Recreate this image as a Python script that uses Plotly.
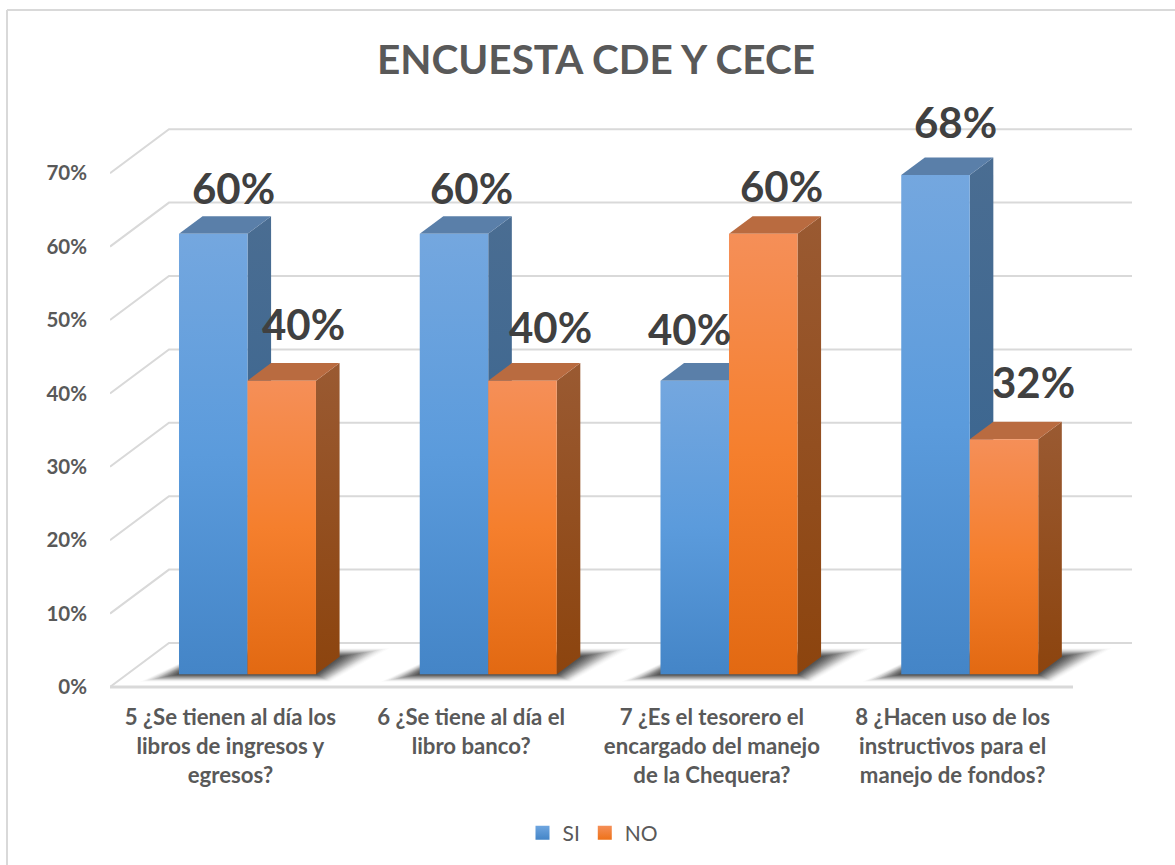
import plotly.graph_objects as go

TITLE = "ENCUESTA CDE Y CECE"
categories = [
    "5 ¿Se tienen al día los<br>libros de ingresos y<br>egresos?",
    "6 ¿Se tiene al día el<br>libro banco?",
    "7 ¿Es el tesorero el<br>encargado del manejo<br>de la Chequera?",
    "8 ¿Hacen uso de los<br>instructivos para el<br>manejo de fondos?",
]
si_values = [60, 60, 40, 68]
no_values = [40, 40, 60, 32]
y_ticks = [0, 10, 20, 30, 40, 50, 60, 70]
y_labels = ["0%", "10%", "20%", "30%", "40%", "50%", "60%", "70%"]

W, H = 1175, 865
ML, MR, MT, MB = 110, 35, 90, 165
PX_CAT = 240.75
PX_UNIT = 7.34
DX, DY = 59 / PX_CAT, 44 / PX_UNIT   # floor depth in axis units
Z0, Z1 = 0.29, 0.69                  # bar depth on the floor
BAR = 0.2845

FONT = "Lato, Carlito, Calibri, sans-serif"
GRID = "#d9d9d9"
TXT = "#595959"

# vertical fill gradients run bottom (0) to top (1)
BLUE = dict(front=[[0, "#4485c7"], [0.5, "#5b9bdc"], [1, "#74a7df"]],
            side=[[0, "#33628f"], [1, "#4a6d92"]], top="#5a7fa9", swatch=("#6fa6e0", "#4485c7"))
ORANGE = dict(front=[[0, "#e26912"], [0.5, "#f57f2d"], [1, "#f58f58"]],
              side=[[0, "#8c440e"], [1, "#9a5a32"]], top="#b96b40", swatch=("#f58f58", "#ee7219"))


def proj(x, v, z):
    return x + z * DX, v + z * DY


def poly(points, **kw):
    xs = [p[0] for p in points] + [points[0][0]]
    ys = [p[1] for p in points] + [points[0][1]]
    return go.Scatter(x=xs, y=ys, mode="lines", line=dict(width=0), fill="toself",
                      hoverinfo="skip", showlegend=False, **kw)


fig = go.Figure()

# walls: gridlines from the front-left edge to the back wall
for v in y_ticks:
    fig.add_trace(go.Scatter(
        x=[-0.5, proj(-0.5, v, 1)[0], proj(3.5, v, 1)[0]],
        y=[v, proj(-0.5, v, 1)[1], proj(3.5, v, 1)[1]],
        mode="lines", line=dict(color=GRID, width=2), hoverinfo="skip", showlegend=False))
fig.add_trace(go.Scatter(x=[-0.5, 3.5], y=[0, 0], mode="lines", line=dict(color=GRID, width=3),
                         hoverinfo="skip", showlegend=False))

# soft floor shadows: nested translucent footprints of each bar pair, widest first
LAYERS = 16
for i in range(len(categories)):
    xl = i - BAR
    xr = i + BAR
    for k in range(LAYERS, 0, -1):
        e = k / LAYERS
        alpha = 0.02 + 0.15 * (1 - e)
        fig.add_trace(poly([
            proj(xl - 0.12 * e, 0, Z0 - 0.17 * e),
            proj(xr + 0.10 * e, 0, Z0 - 0.17 * e),
            proj(xr + 0.16 * e, 0, Z1 + 0.19 * e),
            proj(xl - 0.01 * e, 0, Z1 + 0.19 * e),
        ], fillcolor=f"rgba(40,40,40,{alpha:.3f})"))


def add_bar(x0, x1, val, st):
    fig.add_trace(poly([proj(x1, 0, Z0), proj(x1, 0, Z1), proj(x1, val, Z1), proj(x1, val, Z0)],
                       fillgradient=dict(type="vertical", colorscale=st["side"])))
    fig.add_trace(poly([proj(x0, val, Z0), proj(x1, val, Z0), proj(x1, val, Z1), proj(x0, val, Z1)],
                       fillcolor=st["top"]))
    fig.add_trace(poly([proj(x0, 0, Z0), proj(x1, 0, Z0), proj(x1, val, Z0), proj(x0, val, Z0)],
                       fillgradient=dict(type="vertical", colorscale=st["front"])))


for i, (s, n) in enumerate(zip(si_values, no_values)):
    add_bar(i - BAR, i, s, BLUE)
    add_bar(i, i + BAR, n, ORANGE)

# legend entries
for name, st in (("SI", BLUE), ("NO", ORANGE)):
    fig.add_trace(go.Scatter(
        x=[None], y=[None], mode="markers", name=name,
        marker=dict(symbol="square", size=14, color=st["swatch"][0],
                    gradient=dict(type="vertical", color=st["swatch"][1]))))

# data labels, each nudged by hand in the original chart
si_nudge = [(20, 46), (18, 46), (-5, 52), (20, 53)]
no_nudge = [(22, 57), (28, 54), (18, 48), (30, 57)]
for i in range(len(categories)):
    for x0, val, (dx, dy) in ((i - BAR, si_values[i], si_nudge[i]), (i, no_values[i], no_nudge[i])):
        px, py = proj(x0 + BAR / 2, val, Z0)
        fig.add_annotation(x=px, y=py, text=f"<b>{val}%</b>", showarrow=False, xshift=dx, yshift=dy,
                           font=dict(family=FONT, size=42, color="#404040"))


def px2x(p):
    return (p - ML) / (W - ML - MR)


def px2y(p):
    return 1 - (p - MT) / (H - MT - MB)


frame = dict(color=GRID, width=2)
shapes = [
    dict(type="line", xref="paper", yref="paper", x0=px2x(7), x1=px2x(7), y0=px2y(10), y1=px2y(865), line=frame),
    dict(type="line", xref="paper", yref="paper", x0=px2x(7), x1=px2x(1175), y0=px2y(10), y1=px2y(10), line=frame),
]

fig.update_layout(
    width=W, height=H, margin=dict(l=ML, r=MR, t=MT, b=MB),
    paper_bgcolor="white", plot_bgcolor="rgba(0,0,0,0)",
    font=dict(family=FONT, color=TXT),
    title=dict(text=f"<b>{TITLE}</b>", x=596 / W, xanchor="center", y=1 - 60 / H, yanchor="middle",
               font=dict(family=FONT, size=40.5, color=TXT)),
    xaxis=dict(range=[-0.5, -0.5 + (W - ML - MR) / PX_CAT], tickmode="array", tickvals=list(range(4)),
               ticktext=[f"<b>{c}</b>" for c in categories], tickfont=dict(family=FONT, size=22.2, color=TXT),
               showgrid=False, zeroline=False, showline=False, ticks="", tickangle=0, ticklabelstandoff=2),
    yaxis=dict(range=[-(H - MB - 687) / PX_UNIT, (687 - MT) / PX_UNIT], tickmode="array", tickvals=y_ticks,
               ticktext=[f"<b>{t}</b>" for t in y_labels], tickfont=dict(family=FONT, size=20.5, color=TXT),
               showgrid=False, zeroline=False, showline=False, ticks="", ticklabelstandoff=22),
    legend=dict(orientation="h", x=593 / W, y=1 - 833 / H, xref="container", yref="container",
                xanchor="center", yanchor="middle", font=dict(family=FONT, size=21, color=TXT),
                itemsizing="trace", itemclick=False, itemdoubleclick=False),
    shapes=shapes,
)

fig.write_html("out.html", config=dict(displayModeBar=False),
               post_script="document.body.style.margin='0';")
